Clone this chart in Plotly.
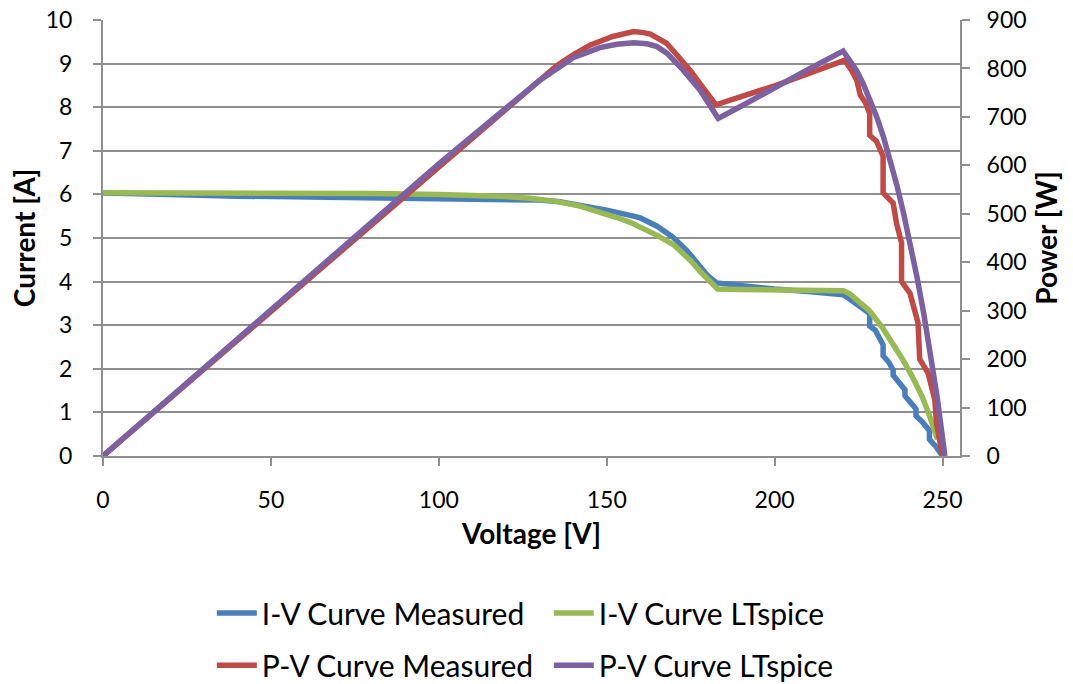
import plotly.graph_objects as go

# ---------------- data ----------------
# I-V curve, measured
v_iv_meas = [0, 6, 20, 40, 60, 80, 100, 120, 130, 136, 142, 150, 157, 160, 165, 169.7, 174, 177.8, 180, 182.7,
             190, 200, 210, 220.4, 222, 224, 226, 228.3, 228.3, 230, 232.3, 232.3, 234, 235.3, 235.3, 237,
             238.8, 238.8, 240.5, 242.1, 242.1, 244, 246.1, 246.1, 248, 249.5, 250]
i_meas = [6.03, 6.03, 6.00, 5.96, 5.94, 5.92, 5.91, 5.89, 5.87, 5.83, 5.76, 5.64, 5.52, 5.46, 5.27, 5.02, 4.70, 4.33, 4.14, 3.97,
          3.90, 3.83, 3.77, 3.70, 3.62, 3.50, 3.38, 3.27, 2.98, 2.88, 2.55, 2.30, 2.15, 1.97, 1.85, 1.70,
          1.52, 1.38, 1.22, 1.08, 0.92, 0.78, 0.58, 0.38, 0.22, 0.05, 0.0]

# I-V curve, LTspice
v_iv_lt = [0, 20, 40, 60, 80, 100, 110, 120, 127, 135, 142, 148, 153, 157, 161, 165, 170, 175, 178, 181, 183,
           190, 200, 210, 219, 220.5, 222.4, 225, 228.3, 232.3, 235.3, 238, 241, 244, 246, 247.7, 248.5]
i_lt = [6.04, 6.04, 6.04, 6.03, 6.02, 6.00, 5.98, 5.95, 5.91, 5.84, 5.73, 5.60, 5.47, 5.36, 5.22, 5.06, 4.84, 4.48, 4.22, 3.98, 3.83,
        3.82, 3.81, 3.81, 3.80, 3.79, 3.72, 3.56, 3.33, 2.92, 2.58, 2.23, 1.82, 1.35, 0.95, 0.58, 0.38]

# P-V curve, measured
v_pv_meas = [0, 50, 100, 120, 130, 135, 140, 145, 151.8, 155, 158, 161, 163, 165, 167.8, 170, 172.7, 175, 177.7, 180.7, 182.5,
             190, 200, 210, 220.9, 223, 224.5, 225.5, 227, 228.3, 228.3, 230.3, 232.3, 232.3, 235.3, 236.3, 237.8, 237.8,
             240.3, 242.7, 243.2, 245.7, 247.7, 248.2, 249.6, 250]
p_meas = [0, 299, 596, 716, 776, 805, 828, 848, 866, 872, 876, 874, 871, 863, 852, 835, 815, 795, 769, 742, 725,
          742, 764, 789, 817, 795, 775, 745, 730, 707, 662, 650, 619, 543, 522, 480, 440, 360,
          336, 275, 200, 171, 116, 68, 5, 0]

# P-V curve, LTspice
v_pv_lt = [0, 50, 100, 120, 130, 140, 148, 153, 158, 162, 165, 168, 172.7, 177.7, 183.2, 190, 200, 210, 220.4,
           222.4, 224.4, 226.4, 228.4, 230.4, 232.4, 234.4, 236.4, 238.4, 240.4, 242.4, 244.4, 246.4, 248.4, 250.7]
p_lt = [0, 302, 603, 718, 775, 822, 843, 850, 853, 851, 845, 831, 797, 756, 697, 722, 761, 798, 836,
        818, 796, 768, 736, 700, 659, 612, 559, 501, 438, 369, 294, 214, 122, 0]

x_ticks = [0, 50, 100, 150, 200, 250]
i_ticks = list(range(0, 11))
p_ticks = list(range(0, 1000, 100))

# ---------------- styling ----------------
FONT = "Lato"
GRID = "#8f8f8f"
BLUE, GREEN, RED, PURPLE = "#4A7EBB", "#98B954", "#BE4B48", "#7D60A0"
LW = 5.5

fig = go.Figure()
fig.add_trace(go.Scatter(x=v_iv_meas, y=i_meas, mode="lines", name="I-V Curve Measured",
                         line=dict(color=BLUE, width=LW), legend="legend"))
fig.add_trace(go.Scatter(x=v_iv_lt, y=i_lt, mode="lines", name="I-V Curve LTspice",
                         line=dict(color=GREEN, width=LW), legend="legend"))
fig.add_trace(go.Scatter(x=v_pv_meas, y=p_meas, mode="lines", name="P-V Curve Measured",
                         line=dict(color=RED, width=LW), yaxis="y2", legend="legend2"))
fig.add_trace(go.Scatter(x=v_pv_lt, y=p_lt, mode="lines", name="P-V Curve LTspice",
                         line=dict(color=PURPLE, width=LW), yaxis="y2", legend="legend2"))

tickfont = dict(family=FONT, size=23, color="black")
titlefont = dict(family=FONT, size=28, color="black", weight="bold")
legfont = dict(family=FONT, size=30, color="black")

fig.update_layout(
    width=1073, height=684,
    margin=dict(l=103, r=113, t=20, b=228, autoexpand=False),
    paper_bgcolor="white", plot_bgcolor="white",
    xaxis=dict(range=[0, 255.2], tickvals=x_ticks, showgrid=False, zeroline=False,
               showline=True, linecolor=GRID, linewidth=2,
               ticks="outside", ticklen=8, tickwidth=2, tickcolor=GRID,
               tickfont=tickfont, ticklabelstandoff=14,
               title=dict(text="Voltage [V]", font=titlefont, standoff=13)),
    yaxis=dict(range=[0, 10], tickvals=i_ticks, showgrid=True, gridcolor=GRID, gridwidth=2,
               zeroline=False, showline=True, linecolor=GRID, linewidth=2,
               ticks="outside", ticklen=8, tickwidth=2, tickcolor=GRID,
               tickfont=tickfont, ticklabelstandoff=16,
               title=dict(text="Current [A]", font=titlefont, standoff=2)),
    yaxis2=dict(range=[0, 900], tickvals=p_ticks, overlaying="y", side="right", showgrid=False,
                zeroline=False, showline=True, linecolor=GRID, linewidth=2,
                ticks="outside", ticklen=8, tickwidth=2, tickcolor=GRID,
                tickfont=tickfont, ticklabelstandoff=12,
                title=dict(text="Power [W]", font=titlefont, standoff=12)),
    legend=dict(orientation="h", x=0.127, xanchor="left", y=-0.36, yanchor="middle",
                font=legfont, entrywidth=282, entrywidthmode="pixels", bgcolor="rgba(0,0,0,0)",
                itemwidth=40),
    legend2=dict(orientation="h", x=0.127, xanchor="left", y=-0.48, yanchor="middle",
                 font=legfont, entrywidth=282, entrywidthmode="pixels", bgcolor="rgba(0,0,0,0)",
                 itemwidth=40),
    showlegend=True,
)

fig.write_html("out.html")
